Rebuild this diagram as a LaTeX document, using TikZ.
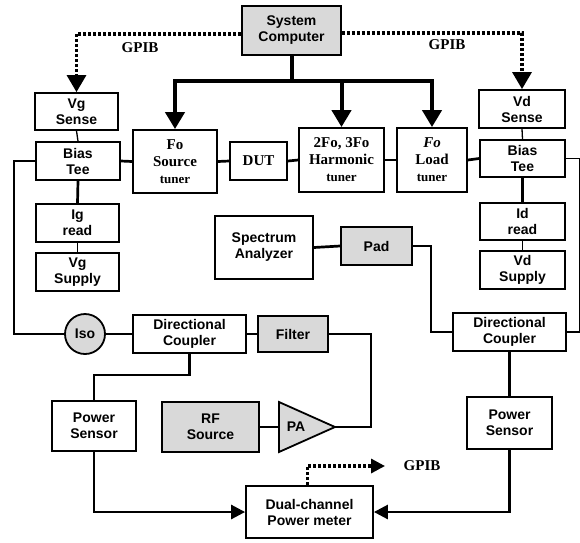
\documentclass[tikz,border=0pt]{standalone}
\usepackage{fontspec}
\setmainfont{Liberation Serif}
\setsansfont{Liberation Sans}
\usetikzlibrary{arrows.meta,calc}
\begin{document}
\begin{tikzpicture}[x=1pt,y=-1pt,
  box/.style={draw, line width=1.8pt, inner sep=0pt, align=center,
    font=\sffamily\bfseries\fontsize{14}{16}\selectfont},
  sbox/.style={box, font=\rmfamily\bfseries\fontsize{15}{17}\selectfont},
  shaded/.style={fill=gray!30},
  sig/.style={line width=2.7pt},
  thin/.style={line width=1.3pt},
  ctrl/.style={line width=4pt},
  gpib/.style={line width=3.2pt, dash pattern=on 3pt off 2pt},
  bigtip/.style={-{Triangle[width=19pt,length=17pt]}},
  smalltip/.style={-{Triangle[width=14pt,length=14pt]}},
  lbl/.style={font=\rmfamily\bfseries\fontsize{15}{17}\selectfont, inner sep=0pt}
]
\useasboundingbox (0,0) rectangle (580,542);

% nodes
\node[box, shaded, minimum width=99pt, minimum height=49pt] (comp) at (291.5,30.5) {System\\Computer};
\node[box, minimum width=83pt, minimum height=37pt] (vgs) at (76.5,111.5) {Vg\\Sense};
\node[box, minimum width=84pt, minimum height=38pt] (btl) at (78,161) {Bias\\Tee};
\node[sbox, minimum width=84pt, minimum height=63pt] (fst) at (175,161.5) {Fo\\Source\\{\fontsize{13}{15}\selectfont tuner}};
\node[sbox, minimum width=57pt, minimum height=38pt] (dut) at (258.5,161) {DUT};
\node[sbox, minimum width=85pt, minimum height=64pt] (hrm) at (341.5,160) {2Fo, 3Fo\\Harmonic\\{\fontsize{13}{15}\selectfont tuner}};
\node[sbox, minimum width=70pt, minimum height=64pt] (lod) at (432,160) {\textit{Fo}\\Load\\{\fontsize{13}{15}\selectfont tuner}};
\node[box, minimum width=86pt, minimum height=38pt] (vds) at (522,109) {Vd\\Sense};
\node[box, minimum width=85pt, minimum height=37pt] (btr) at (522.5,158.5) {Bias\\Tee};
\node[box, minimum width=83pt, minimum height=38pt] (igr) at (77.5,223) {Ig\\read};
\node[box, minimum width=83pt, minimum height=38pt] (vgp) at (77.5,272) {Vg\\Supply};
\node[box, minimum width=85pt, minimum height=37pt] (idr) at (522.5,221.5) {Id\\read};
\node[box, minimum width=85pt, minimum height=38pt] (vdp) at (522.5,270) {Vd\\Supply};
\node[box, minimum width=98pt, minimum height=63pt] (spa) at (264,247.5) {Spectrum\\Analyzer};
\node[box, shaded, minimum width=71pt, minimum height=38pt] (pad) at (376.5,246) {Pad};
\node[box, shaded, circle, minimum size=40pt] (iso) at (85,334) {Iso};
\node[box, minimum width=113pt, minimum height=38pt] (dcl) at (189.5,334) {Directional\\Coupler};
\node[box, shaded, minimum width=70pt, minimum height=36pt] (fil) at (293,334) {Filter};
\node[box, minimum width=113pt, minimum height=38pt] (dcr) at (509.5,332) {Directional\\Coupler};
\node[box, minimum width=84pt, minimum height=50pt] (psl) at (94,426) {Power\\Sensor};
\node[box, shaded, minimum width=97pt, minimum height=50pt] (rfs) at (210.5,427) {RF\\Source};
\node[box, minimum width=85pt, minimum height=52pt] (psr) at (509.5,423) {Power\\Sensor};
\node[box, minimum width=127pt, minimum height=52pt] (pm) at (309.5,512) {Dual-channel\\Power meter};

% PA triangle
\coordinate (pain) at (279,427);
\coordinate (paout) at (335,427);
\draw[line width=1.8pt, fill=gray!30] (279,402) -- (paout) -- (279,452) -- cycle;
\node[font=\sffamily\bfseries\fontsize{14}{16}\selectfont, inner sep=0pt] (pa) at (296,427) {PA};

% computer control bus
\coordinate (bus) at (292,81);
\draw[ctrl] (comp.south) -- (comp.south |- bus);
\draw[ctrl, bigtip] (bus) -| (fst.north);
\draw[ctrl, bigtip] (bus) -| (lod.north);
\draw[ctrl, bigtip] (bus -| hrm.north) -- (hrm.north);

% GPIB lines
\coordinate (gl) at (0,34);
\coordinate (gr) at (0,33);
\draw[gpib, bigtip] (comp.west |- gl) -| (vgs.north);
\draw[gpib, bigtip] (comp.east |- gr) -| (vds.north);
\node[lbl] (g1) at (140,48) {GPIB};
\node[lbl] (g2) at (447,45) {GPIB};
\coordinate (gpo) at (385,466);
\draw[gpib, smalltip] ([xshift=-2pt]pm.north) |- (gpo);
\node[lbl] (g3) at (422,466) {GPIB};

% thin links
\draw[thin] (vgs.south) -- (btl.north);
\draw[thin] (vds.south) -- (btr.north);
\draw[thin] (igr.south) -- (vgp.north);
\draw[thin] (idr.south) -- (vdp.north);

% signal path
\draw[sig] (btl.east) -- (fst.west);
\draw[sig] (fst.east) -- (dut.west);
\draw[sig] (dut.east) -- (hrm.west);
\draw[sig] (hrm.east) -- (lod.west);
\draw[sig] (lod.east) -- (btr.west);
\draw[sig] (btl.south) -- (igr.north);
\draw[sig] (btr.south) -- (idr.north);
\draw[sig] (btl.west) -- ++(-21,0) |- (iso.west);
\draw[sig] (iso.east) -- (dcl.west);
\draw[sig] (dcl.east) -- (fil.west);
\coordinate (fk) at (371,0);
\draw[sig] (fil.east) -| (fk |- paout) -- (paout);
\draw[sig] (rfs.east) -- (pain);
\draw[sig] (spa.east) -- (pad.west);
\draw[sig] (pad.east) -- ++(18,0) |- (dcr.west);
\draw[line width=1.4pt] (btr.east) -- ++(14,0) |- (dcr.east);
\coordinate (dl) at (0,375);
\draw[sig] (dcl.south) -- (dcl.south |- dl) -| (psl.north);
\draw[sig] (dcr.south) -- (psr.north);
\draw[sig, smalltip] (psl.south) |- (pm.west);
\draw[sig, smalltip] (psr.south) |- (pm.east);
\end{tikzpicture}
\end{document}
